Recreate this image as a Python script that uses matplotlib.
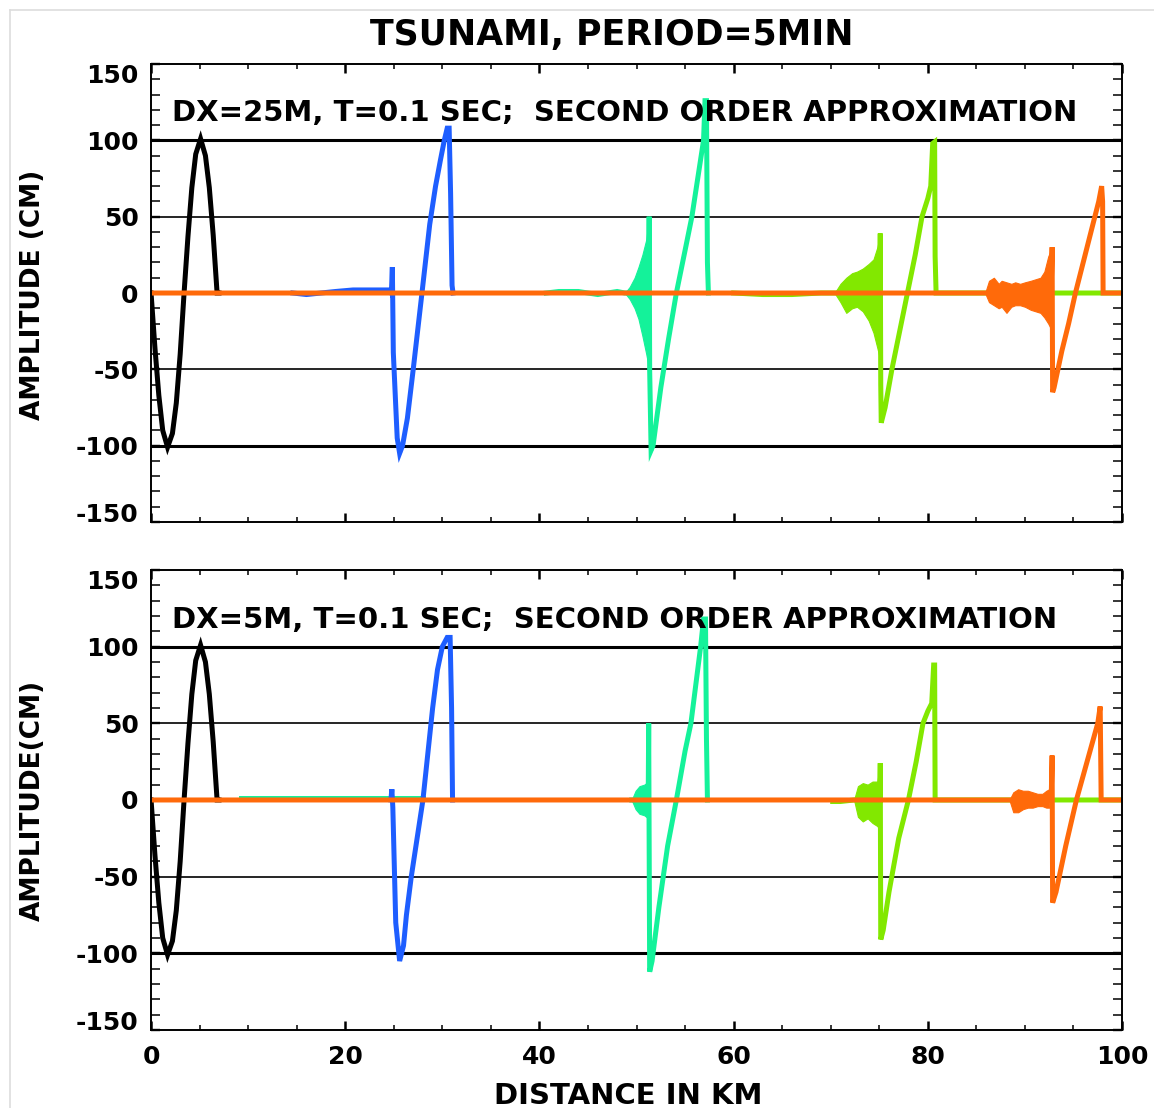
#!/usr/bin/env python3
"""
plot.py

Tsunami propagation, period 5 min: wave profiles at successive times
for two grid spacings (DX=25M and DX=5M), second order scheme.

Output:
  out.png
"""

import matplotlib
matplotlib.use("Agg")
import matplotlib.pyplot as plt
from matplotlib.lines import Line2D
from matplotlib.ticker import MultipleLocator

plt.rcParams['font.family'] = ['DejaVu Sans']
plt.rcParams['font.weight'] = 'bold'
plt.rcParams['axes.labelweight'] = 'bold'
plt.rcParams['axes.unicode_minus'] = False

# ----------------------------------------------------------------------
# Colours (one per time step)
# ----------------------------------------------------------------------
C_BLACK = "#000000"
C_BLUE = "#1e5eff"
C_MINT = "#14f29a"
C_LIME = "#82e800"
C_ORANGE = "#ff6a0a"

# ----------------------------------------------------------------------
# Data (km, cm)
# ----------------------------------------------------------------------
# initial wave (same in both panels)
black_x = [0, 0.4, 0.8, 1.2, 1.7, 2.2, 2.6, 3.0, 3.4, 3.8, 4.2, 4.6, 5.1, 5.6, 6.0, 6.4, 6.8, 7.0]
black_y = [0, -36, -67, -90, -101, -92, -72, -40, 0, 37, 69, 91, 101, 90, 69, 38, 0, 0]

# --- top panel: DX=25M ---
blue25_x = [14.6, 16.0, 17.5, 19.0, 20.8, 22.5, 24.6, 24.75, 24.85, 24.95, 25.1, 25.35, 25.6, 25.9,
            26.4, 27.0, 27.9, 28.7, 29.3, 29.8, 30.2, 30.5, 30.7, 30.85, 31.0, 31.1]
blue25_y = [0, -1, 0, 1, 2, 2, 2, 0, 17, -39, -60, -95, -105, -100,
            -82, -50, 0, 45, 70, 87, 100, 108, 108, 65, 5, 0]

mint25_x = [40.7, 42.0, 44.0, 46.0, 48.0, 48.8, 51.25, 51.3, 51.35, 51.5, 51.7, 52.5, 53.3, 54.1,
            55.0, 55.7, 56.3, 56.9, 57.05, 57.2, 57.3, 57.4]
mint25_y = [0, 1, 1, -1, 1, 0, 0, 50, -50, -103, -100, -62, -30, 0,
            28, 50, 75, 100, 126, 126, 20, 0]
mint25_env_x = [48.8, 49.3, 49.8, 50.2, 50.6, 51.0, 51.3]
mint25_env_hi = [0, 4, 10, 17, 25, 35, 50]
mint25_env_lo = [0, -4, -10, -17, -28, -40, -50]

lime25_x = [60.0, 63.0, 66.0, 69.0, 70.4, 75.05, 75.1, 75.15, 75.2, 75.6, 76.3, 77.1, 77.9,
            78.7, 79.4, 80.0, 80.3, 80.5, 80.7, 80.75, 80.85, 100.0]
lime25_y = [0, -1, -1, 0, 0, 0, 39, -60, -85, -75, -50, -25, 0,
            25, 50, 62, 70, 98, 99, 24, 0, 0]
lime25_env_x = [70.4, 71.0, 71.6, 72.2, 72.7, 73.3, 73.9, 74.4, 74.8, 75.1]
lime25_env_hi = [0, 6, 10, 13, 14, 16, 19, 22, 30, 39]
lime25_env_lo = [0, -6, -13, -10, -9, -12, -18, -26, -36, -44]

orange25_x = [0, 92.7, 92.8, 92.85, 93.0, 93.8, 94.5, 95.2, 96.2, 97.2, 97.6, 97.9, 98.0, 98.05, 100.0]
orange25_y = [0, 0, 30, -65, -62, -38, -20, 0, 25, 50, 60, 70, 60, 0, 0]
orange25_env_x = [85.9, 86.3, 86.8, 87.3, 87.6, 88.1, 88.6, 89.0, 89.5, 90.0, 90.6, 91.1, 91.6, 92.0, 92.4, 92.8]
orange25_env_hi = [0, 8, 10, 6, 8, 7, 6, 7, 6, 7, 8, 9, 10, 14, 24, 30]
orange25_env_lo = [0, -6, -8, -10, -9, -13, -9, -8, -8, -9, -11, -12, -13, -16, -20, -25]

# --- bottom panel: DX=5M ---
blue5_x = [24.7, 24.8, 24.9, 25.2, 25.6, 26.0, 26.3, 26.8, 27.4, 28.0, 28.5, 29.0, 29.5, 30.0,
           30.5, 30.8, 30.95, 31.05]
blue5_y = [0, 7, -5, -80, -105, -95, -75, -50, -25, 0, 30, 60, 85, 100,
           106, 106, 60, 0]

mint5_x = [9.3, 15.0, 20.0, 28.0, 49.5, 51.2, 51.25, 51.35, 51.6, 52.3, 53.2, 54.1,
           55.0, 55.6, 56.6, 56.9, 57.1, 57.2, 57.3]
mint5_y = [1.5, 1.5, 1.5, 1.5, 0, 0, 50, -112, -105, -70, -30, 0,
           32, 50, 100, 118, 118, 40, 0]
mint5_env_x = [49.5, 49.9, 50.3, 50.8, 51.2]
mint5_env_hi = [0, 6, 9, 10, 12]
mint5_env_lo = [0, -6, -9, -10, -12]

lime5_x = [70.2, 71.0, 72.4, 75.05, 75.1, 75.15, 75.4, 76.0, 77.0, 78.0, 78.8, 79.5, 80.0,
           80.4, 80.6, 80.7, 80.75, 100.0]
lime5_y = [-1, -1, 0, 0, 24, -91, -85, -60, -25, 0, 25, 50, 58,
           63, 88, 88, 0, 0]
lime5_env_x = [72.4, 72.8, 73.3, 73.8, 74.3, 74.8, 75.1]
lime5_env_hi = [0, 9, 11, 10, 12, 12, 24]
lime5_env_lo = [0, -11, -14, -12, -15, -17, -20]

orange5_x = [0, 92.7, 92.8, 92.85, 93.2, 94.2, 95.3, 96.4, 97.5, 97.75, 97.85, 100.0]
orange5_y = [0, 0, 29, -67, -60, -30, 0, 25, 50, 61, 0, 0]
orange5_env_x = [88.4, 88.8, 89.3, 89.8, 90.3, 90.8, 91.3, 91.8, 92.2, 92.5]
orange5_env_hi = [0, 5, 7, 6, 6, 5, 4, 4, 6, 7]
orange5_env_lo = [0, -8, -8, -6, -5, -5, -4, -4, -5, -5]

TITLE = "TSUNAMI, PERIOD=5MIN"
LABEL_TOP = "DX=25M, T=0.1 SEC;  SECOND ORDER APPROXIMATION"
LABEL_BOT = "DX=5M, T=0.1 SEC;  SECOND ORDER APPROXIMATION"
YLABEL_TOP = "AMPLITUDE (CM)"
YLABEL_BOT = "AMPLITUDE(CM)"
XLABEL = "DISTANCE IN KM"
Y_TICKS = [-150, -100, -50, 0, 50, 100, 150]
X_TICKS = [0, 20, 40, 60, 80, 100]

LW = 3.6


def setup_axes(ax, show_x):
    ax.set_xlim(0, 100)
    ax.set_ylim(-150, 150)
    ax.set_xticks(X_TICKS)
    ax.set_yticks(Y_TICKS)
    ax.xaxis.set_minor_locator(MultipleLocator(5))
    ax.yaxis.set_minor_locator(MultipleLocator(10))
    ax.tick_params(which='both', direction='in', top=True, right=True, labelsize=18)
    ax.tick_params(axis='y', which='major', length=6.5, width=1.7, pad=9)
    ax.tick_params(axis='y', which='minor', length=6.5, width=1.1)
    ax.tick_params(axis='x', which='major', length=6.5, width=1.8, pad=11)
    ax.tick_params(axis='x', which='minor', length=3.5, width=1.1)
    ax.tick_params(axis='x', labelbottom=show_x)
    for sp in ax.spines.values():
        sp.set_linewidth(1.4)
    # reference lines
    for v in (100, -100):
        ax.axhline(v, color='k', lw=2.2, zorder=1)
    for v in (50, -50):
        ax.axhline(v, color='k', lw=1.2, zorder=1)
    # keep the end labels inside the frame, as in the original
    ticks = ax.yaxis.get_major_ticks()
    ticks[0].label1.set_verticalalignment('baseline')
    ticks[-1].label1.set_verticalalignment('top')


def draw_wave(ax, x, y, color, env=None):
    if env is not None:
        ex, hi, lo = env
        ax.fill_between(ex, lo, hi, color=color, lw=0.8, zorder=2)
    ax.plot(x, y, color=color, lw=LW, solid_joinstyle='miter', zorder=2)


fig = plt.figure(figsize=(11.54, 11.08), dpi=100)
ax1 = fig.add_axes([0.1309, 0.5289, 0.8414, 0.4133])
ax2 = fig.add_axes([0.1309, 0.0704, 0.8414, 0.4152])

setup_axes(ax1, False)
setup_axes(ax2, True)

# top panel
draw_wave(ax1, black_x, black_y, C_BLACK)
draw_wave(ax1, blue25_x, blue25_y, C_BLUE)
draw_wave(ax1, mint25_x, mint25_y, C_MINT, (mint25_env_x, mint25_env_hi, mint25_env_lo))
draw_wave(ax1, lime25_x, lime25_y, C_LIME, (lime25_env_x, lime25_env_hi, lime25_env_lo))
draw_wave(ax1, orange25_x, orange25_y, C_ORANGE, (orange25_env_x, orange25_env_hi, orange25_env_lo))

# bottom panel
draw_wave(ax2, black_x, black_y, C_BLACK)
draw_wave(ax2, mint5_x[:4], mint5_y[:4], C_MINT)
draw_wave(ax2, blue5_x, blue5_y, C_BLUE)
draw_wave(ax2, mint5_x[4:], mint5_y[4:], C_MINT, (mint5_env_x, mint5_env_hi, mint5_env_lo))
draw_wave(ax2, lime5_x, lime5_y, C_LIME, (lime5_env_x, lime5_env_hi, lime5_env_lo))
draw_wave(ax2, orange5_x, orange5_y, C_ORANGE, (orange5_env_x, orange5_env_hi, orange5_env_lo))

ax1.text(0.0216, 0.893, LABEL_TOP, transform=ax1.transAxes, fontsize=21,
         ha='left', va='center', zorder=5)
ax2.text(0.0216, 0.891, LABEL_BOT, transform=ax2.transAxes, fontsize=21,
         ha='left', va='center', zorder=5)

ax1.set_ylabel(YLABEL_TOP, fontsize=19)
ax2.set_ylabel(YLABEL_BOT, fontsize=19)
ax1.yaxis.set_label_coords(-0.108, 0.496)
ax2.yaxis.set_label_coords(-0.108, 0.5)
ax2.set_xlabel(XLABEL, fontsize=21)
ax2.xaxis.set_label_coords(0.491, -0.113)

fig.text(612 / 1154, 1 - 35 / 1108, TITLE, fontsize=25, ha='center', va='center')

# thin grey frame of the original screenshot
fig.add_artist(Line2D([10 / 1154, 10 / 1154], [0, 1 - 10 / 1108], transform=fig.transFigure,
                      color='#dddddd', lw=1.2))
fig.add_artist(Line2D([10 / 1154, 1], [1 - 10 / 1108, 1 - 10 / 1108], transform=fig.transFigure,
                      color='#dddddd', lw=1.2))

fig.savefig("out.png", dpi=100)
